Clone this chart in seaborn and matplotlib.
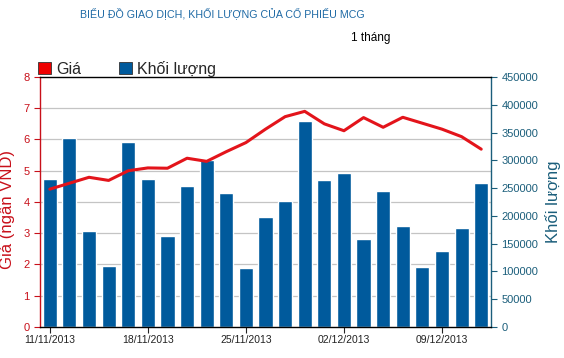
import matplotlib
matplotlib.use("Agg")
import matplotlib.pyplot as plt
import matplotlib.patches as mpatches
import numpy as np
import seaborn as sns

# trading days 11/11/2013 .. 11/12/2013
dates = ["11/11", "12/11", "13/11", "14/11", "15/11",
         "18/11", "19/11", "20/11", "21/11", "22/11",
         "25/11", "26/11", "27/11", "28/11", "29/11",
         "02/12", "03/12", "04/12", "05/12", "06/12",
         "09/12", "10/12", "11/12"]
price = [4.41, 4.60, 4.79, 4.69, 5.00, 5.09, 5.08, 5.40, 5.30, 5.61,
         5.90, 6.33, 6.73, 6.90, 6.50, 6.28, 6.70, 6.39, 6.71, 6.52,
         6.33, 6.09, 5.69]
volume = [267000, 340000, 173000, 110000, 333000, 266000, 163000, 254000,
          300000, 241000, 107000, 198000, 227000, 371000, 265000, 278000,
          158000, 245000, 182000, 108000, 137000, 179000, 259000]
tick_idx = [0, 5, 10, 15, 20]
tick_labels = ["11/11/2013", "18/11/2013", "25/11/2013", "02/12/2013", "09/12/2013"]

RED = "#e3141b"
RED_TXT = "#c8101a"
BLUE = "#005a9c"
TEAL = "#1b5e7b"

sns.set_theme(style="white")
plt.rcParams["font.family"] = ["Liberation Sans", "DejaVu Sans"]

fig = plt.figure(figsize=(5.64, 3.58), dpi=100)
ax = fig.add_axes([0.0709, 0.0866, 0.7997, 0.6984])
ax2 = ax.twinx()

# bars on the volume axis (behind), price line on top
sns.barplot(x=list(range(len(dates))), y=volume, ax=ax2, color=BLUE,
            saturation=1, width=0.72, native_scale=True)
sns.lineplot(x=np.arange(len(dates)), y=price, ax=ax, color=RED, linewidth=2.2)
ax.set_zorder(ax2.get_zorder() + 1)
ax.patch.set_visible(False)

ax.set_xlim(-0.5, len(dates) - 0.5)
ax.set_ylim(0, 8)
ax2.set_ylim(0, 450000)

# grid at price steps, drawn under the bars
ax2.set_yticks(np.linspace(0, 450000, 9), minor=True)
ax2.grid(which="minor", axis="y", color="#c4c4c4", linewidth=0.9)
ax2.grid(which="major", visible=False)
ax2.set_axisbelow(True)
ax2.tick_params(which="minor", length=0)

ax.set_yticks(range(0, 9))
ax.tick_params(axis="y", colors=RED_TXT, labelsize=8, length=4, width=0.8, direction="out", left=True)
ax2.set_yticks(range(0, 450001, 50000))
ax2.tick_params(axis="y", which="major", colors=TEAL, labelsize=8, length=4, width=0.8,
                direction="out", right=True)
ax.set_xticks(tick_idx)
ax.set_xticklabels(tick_labels)
ax.tick_params(axis="x", labelsize=7.5, length=4, width=0.8, direction="out", bottom=True,
               colors="#222222", pad=2)
ax2.tick_params(axis="x", bottom=False, labelbottom=False)

for a in (ax, ax2):
    for s in a.spines.values():
        s.set_linewidth(1.0)
ax.spines["left"].set_color(RED_TXT)
ax.spines["right"].set_visible(False)
ax.spines["top"].set_color("black")
ax.spines["bottom"].set_color("black")
ax2.spines["left"].set_visible(False)
ax2.spines["right"].set_color(TEAL)
ax2.spines["top"].set_visible(False)
ax2.spines["bottom"].set_visible(False)

ax.set_xlabel("")
ax.set_ylabel("Giá (ngân VND)", color=RED_TXT, fontsize=12)
ax.yaxis.set_label_coords(-0.056, 0.47)
ax2.set_ylabel("Khối lượng", color=TEAL, fontsize=12, rotation=90)
ax2.yaxis.set_label_coords(1.12, 0.5)
ax2.set_xlabel("")

fig.text(0.394, 0.962, "BIỂU ĐỒ GIAO DỊCH, KHỐI LƯỢNG CỦA CỔ PHIẾU MCG",
         ha="center", va="center", fontsize=7.7, color="#1f6aa5")
fig.text(0.658, 0.895, "1 tháng", ha="center", va="center", fontsize=8.5, color="black")

handles = [mpatches.Patch(facecolor="#ee0000", edgecolor="#333333", linewidth=0.6, label="Giá"),
           mpatches.Patch(facecolor=BLUE, edgecolor="#333333", linewidth=0.6, label="Khối lượng")]
fig.legend(handles=handles, loc="center left", bbox_to_anchor=(0.068, 0.808), ncol=2,
           frameon=False, fontsize=11.5, handlelength=0.8, handleheight=0.8,
           handletextpad=0.3, columnspacing=2.4, borderaxespad=0, borderpad=0)

fig.savefig("out.png", dpi=100, facecolor="white")
